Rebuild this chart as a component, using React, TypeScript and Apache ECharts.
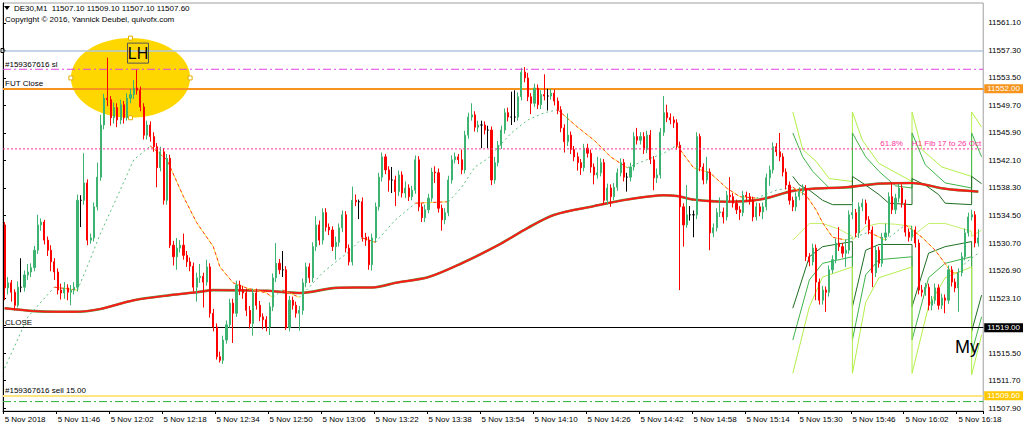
import React, { useEffect, useRef } from "react";
import * as echarts from "echarts";

// ---------- data ----------
const headerText = "DE30,M1  11507.10 11509.10 11507.10 11507.60";
const copyrightText = "Copyright \u00A9 2016, Yannick Deubel, quivofx.com";
const dayLabel = "5 Nov";
const firstLabel = "5 Nov 2018";
const startHour = 11;
const startMinute = 30;
const barCount = 296;
const labelEvery = 16;

const firstOpen = 11533.2;
const closes = [
  11524.5, 11525.2, 11523.9, 11522.1, 11524.6, 11524.6, 11526.3, 11526.7, 11527.3, 11529.7,
  11533.2, 11533.6, 11531.1, 11529.7, 11528.1, 11526.7, 11524.2, 11523.8, 11524.5, 11523.9,
  11524.2, 11524.6, 11536.6, 11536.6, 11539.0, 11531.1, 11531.4, 11535.7, 11539.8, 11547.0,
  11550.7, 11550.5, 11548.0, 11549.4, 11547.7, 11549.8, 11548.0, 11550.7, 11551.2, 11552.1,
  11551.8, 11549.5, 11545.6, 11547.0, 11545.4, 11544.0, 11541.1, 11543.3, 11536.6, 11542.4,
  11530.4, 11528.8, 11530.0, 11530.4, 11529.0, 11528.1, 11527.5, 11524.6, 11525.9, 11526.1,
  11525.3, 11527.4, 11521.0, 11519.1, 11515.0, 11514.5, 11517.3, 11519.4, 11522.4, 11521.0,
  11524.9, 11524.2, 11523.8, 11521.4, 11519.6, 11523.8, 11522.1, 11520.5, 11520.1, 11519.1,
  11521.9, 11525.9, 11527.9, 11527.0, 11527.0, 11519.0, 11522.8, 11522.1, 11521.0, 11521.4,
  11525.2, 11527.4, 11525.9, 11530.2, 11533.2, 11531.1, 11534.9, 11532.9, 11532.5, 11530.2,
  11530.8, 11532.8, 11534.6, 11530.0, 11528.1, 11536.6, 11536.4, 11536.4, 11531.5, 11531.1,
  11527.7, 11531.4, 11535.7, 11539.8, 11542.6, 11540.8, 11539.4, 11539.4, 11537.8, 11540.1,
  11537.6, 11538.3, 11537.1, 11538.0, 11542.2, 11535.7, 11534.2, 11535.3, 11536.9, 11540.5,
  11540.4, 11535.5, 11533.9, 11534.9, 11539.4, 11542.2, 11542.6, 11542.2, 11540.8, 11545.6,
  11548.1, 11548.4, 11546.7, 11547.0, 11547.0, 11546.3, 11546.3, 11539.4, 11541.8, 11544.2,
  11546.3, 11548.7, 11548.1, 11548.1, 11548.1, 11550.9, 11554.3, 11553.5, 11550.9, 11550.0,
  11552.1, 11549.8, 11551.2, 11551.0, 11551.0, 11551.4, 11550.3, 11549.1, 11546.6, 11544.7,
  11545.6, 11543.6, 11542.6, 11541.8, 11541.1, 11543.8, 11543.1, 11541.2, 11540.1, 11540.4,
  11541.8, 11536.6, 11538.3, 11537.1, 11538.4, 11540.4, 11541.8, 11539.8, 11539.8, 11541.2,
  11545.4, 11544.9, 11545.4, 11543.6, 11545.6, 11542.2, 11539.7, 11540.1, 11546.0, 11548.7,
  11548.0, 11547.7, 11547.3, 11544.2, 11535.7, 11533.2, 11534.6, 11534.6, 11534.6, 11545.4,
  11541.2, 11539.4, 11540.5, 11532.1, 11532.8, 11534.9, 11535.0, 11534.3, 11537.3, 11537.1,
  11536.2, 11535.3, 11534.9, 11537.3, 11537.1, 11536.6, 11534.3, 11535.7, 11535.0, 11535.7,
  11539.7, 11540.8, 11544.0, 11543.3, 11542.6, 11540.5, 11538.7, 11536.6, 11535.7, 11537.1,
  11537.8, 11538.2, 11528.8, 11528.1, 11530.0, 11525.3, 11522.8, 11524.2, 11523.9, 11527.0,
  11528.4, 11530.7, 11530.2, 11529.3, 11529.7, 11534.6, 11534.9, 11532.1, 11535.7, 11536.2,
  11533.9, 11532.5, 11526.6, 11529.7, 11527.9, 11531.5, 11532.1, 11537.1, 11535.3, 11536.9,
  11538.3, 11536.2, 11532.2, 11531.5, 11532.5, 11530.7, 11524.2, 11523.9, 11524.6, 11522.1,
  11522.8, 11524.5, 11522.1, 11523.1, 11522.8, 11527.0, 11525.3, 11524.5, 11526.6, 11528.8,
  11532.1, 11534.3, 11534.6, 11530.7, 11531.4,
];
const highs = [
  11533.6, 11526.0, 11525.6, 11524.3, 11525.4, 11528.6, 11526.9, 11527.8, 11527.9, 11530.3,
  11534.6, 11534.1, 11533.9, 11531.6, 11530.4, 11528.6, 11527.2, 11525.1, 11525.3, 11525.0,
  11524.9, 11525.3, 11537.4, 11537.3, 11543.1, 11539.5, 11532.0, 11536.3, 11541.8, 11548.4,
  11551.3, 11556.3, 11551.0, 11550.1, 11550.0, 11550.5, 11550.3, 11551.4, 11552.0, 11553.2,
  11554.7, 11552.3, 11550.0, 11547.6, 11547.5, 11546.0, 11544.5, 11544.0, 11543.8, 11543.0,
  11542.9, 11531.0, 11531.4, 11531.1, 11532.0, 11529.6, 11528.7, 11528.0, 11526.6, 11527.8,
  11526.6, 11528.4, 11527.9, 11521.6, 11519.6, 11515.7, 11517.9, 11520.0, 11523.0, 11523.0,
  11525.5, 11525.5, 11524.8, 11524.4, 11522.0, 11524.4, 11524.4, 11522.7, 11521.0, 11520.6,
  11522.5, 11526.5, 11530.7, 11528.5, 11529.6, 11527.5, 11523.4, 11523.3, 11522.6, 11522.0,
  11525.8, 11528.0, 11527.9, 11530.8, 11534.4, 11533.8, 11535.5, 11535.5, 11533.4, 11533.0,
  11531.6, 11533.4, 11535.2, 11535.1, 11530.5, 11538.5, 11537.4, 11536.7, 11537.0, 11532.1,
  11531.6, 11532.0, 11536.3, 11540.4, 11543.2, 11543.0, 11541.3, 11541.2, 11540.0, 11540.7,
  11540.6, 11539.2, 11538.8, 11538.6, 11542.8, 11542.7, 11536.2, 11536.0, 11537.5, 11541.1,
  11541.3, 11541.0, 11536.0, 11535.5, 11540.0, 11542.8, 11543.2, 11543.0, 11543.6, 11546.2,
  11548.7, 11550.0, 11548.9, 11547.6, 11547.6, 11547.5, 11546.9, 11546.8, 11542.6, 11544.8,
  11546.9, 11549.3, 11549.4, 11551.6, 11551.8, 11551.5, 11554.9, 11555.0, 11554.2, 11551.4,
  11552.7, 11552.6, 11551.8, 11554.0, 11552.0, 11552.0, 11551.9, 11550.8, 11549.6, 11547.1,
  11548.6, 11546.1, 11544.1, 11543.2, 11542.3, 11544.4, 11544.4, 11543.6, 11541.7, 11542.6,
  11542.4, 11542.3, 11538.9, 11538.8, 11539.0, 11541.0, 11542.4, 11542.3, 11540.4, 11541.8,
  11546.0, 11546.6, 11546.0, 11546.0, 11546.2, 11546.3, 11542.7, 11541.0, 11546.6, 11551.0,
  11549.8, 11548.6, 11548.2, 11547.8, 11544.7, 11536.2, 11538.7, 11535.8, 11535.2, 11546.0,
  11545.8, 11541.7, 11542.6, 11541.0, 11533.4, 11535.5, 11537.0, 11535.6, 11537.9, 11539.8,
  11537.6, 11536.7, 11535.8, 11537.9, 11537.8, 11537.6, 11537.1, 11536.3, 11536.2, 11536.3,
  11540.3, 11541.4, 11544.6, 11544.5, 11545.9, 11543.1, 11541.0, 11539.2, 11537.1, 11537.7,
  11538.4, 11538.8, 11538.7, 11529.3, 11530.6, 11530.5, 11525.8, 11524.8, 11524.7, 11527.6,
  11529.0, 11531.3, 11532.9, 11530.7, 11531.2, 11535.2, 11536.4, 11535.4, 11536.3, 11536.8,
  11536.7, 11534.4, 11533.0, 11530.3, 11530.2, 11532.1, 11533.4, 11537.7, 11539.0, 11537.5,
  11538.9, 11538.8, 11536.7, 11532.7, 11533.1, 11533.0, 11531.2, 11524.9, 11525.2, 11525.1,
  11523.4, 11525.1, 11525.0, 11523.7, 11523.6, 11527.6, 11527.5, 11525.8, 11527.2, 11529.4,
  11532.7, 11534.9, 11535.3, 11535.1, 11532.6,
];
const lows = [
  11522.8, 11523.6, 11522.6, 11521.4, 11521.8, 11523.9, 11524.0, 11525.6, 11526.0, 11526.8,
  11529.2, 11532.4, 11530.5, 11528.9, 11526.8, 11525.6, 11523.6, 11522.9, 11523.0, 11522.8,
  11522.1, 11523.6, 11524.0, 11532.9, 11536.0, 11530.4, 11530.6, 11530.9, 11535.2, 11539.3,
  11546.4, 11549.6, 11546.9, 11547.2, 11546.7, 11547.1, 11547.2, 11547.6, 11550.0, 11550.6,
  11551.2, 11548.9, 11545.0, 11545.0, 11544.7, 11543.3, 11538.4, 11540.6, 11536.0, 11536.0,
  11530.0, 11527.6, 11527.0, 11529.4, 11528.4, 11527.4, 11526.8, 11524.0, 11522.6, 11525.2,
  11521.8, 11524.8, 11520.4, 11518.5, 11514.6, 11514.2, 11514.0, 11516.8, 11519.0, 11516.9,
  11520.5, 11523.5, 11523.0, 11520.6, 11518.9, 11517.9, 11521.5, 11519.9, 11518.8, 11518.5,
  11518.0, 11521.3, 11525.3, 11526.4, 11526.0, 11518.7, 11518.5, 11521.5, 11520.4, 11518.6,
  11520.8, 11524.6, 11525.2, 11525.3, 11529.6, 11530.4, 11530.5, 11532.3, 11531.8, 11529.6,
  11528.4, 11530.2, 11532.2, 11529.4, 11527.6, 11527.6, 11535.8, 11534.0, 11530.9, 11530.3,
  11527.0, 11526.9, 11530.8, 11535.2, 11539.2, 11540.2, 11537.8, 11537.6, 11535.8, 11537.2,
  11537.0, 11536.9, 11536.5, 11536.6, 11537.5, 11535.1, 11533.6, 11533.6, 11534.8, 11536.4,
  11539.0, 11534.9, 11532.4, 11533.3, 11534.4, 11538.9, 11541.7, 11541.6, 11540.2, 11540.3,
  11545.1, 11547.6, 11546.1, 11546.0, 11543.8, 11545.7, 11543.8, 11538.7, 11538.9, 11541.3,
  11543.7, 11545.8, 11547.5, 11547.0, 11547.4, 11547.6, 11550.4, 11552.9, 11550.3, 11548.5,
  11549.5, 11549.2, 11549.2, 11550.4, 11549.0, 11550.5, 11549.7, 11548.5, 11546.0, 11543.2,
  11544.1, 11543.0, 11542.0, 11540.7, 11540.1, 11540.6, 11542.5, 11540.4, 11538.8, 11539.6,
  11539.9, 11536.0, 11536.0, 11535.7, 11536.6, 11537.9, 11539.9, 11539.2, 11537.8, 11539.2,
  11540.7, 11544.3, 11544.3, 11543.0, 11543.1, 11541.6, 11538.0, 11539.0, 11539.6, 11545.5,
  11547.4, 11547.1, 11546.6, 11543.6, 11524.2, 11530.2, 11532.8, 11533.8, 11531.5, 11534.0,
  11540.6, 11538.8, 11538.9, 11529.7, 11531.5, 11532.3, 11534.3, 11533.4, 11533.8, 11536.5,
  11535.6, 11534.7, 11533.9, 11534.4, 11536.5, 11536.0, 11533.7, 11533.8, 11534.4, 11534.0,
  11535.2, 11538.6, 11540.3, 11542.7, 11542.0, 11539.9, 11538.1, 11536.0, 11535.1, 11535.1,
  11536.6, 11537.3, 11528.2, 11527.5, 11527.6, 11522.8, 11522.2, 11522.2, 11521.2, 11523.3,
  11526.5, 11527.9, 11529.6, 11528.7, 11527.4, 11529.2, 11534.0, 11531.5, 11531.4, 11535.1,
  11533.3, 11531.9, 11524.6, 11526.0, 11527.3, 11527.4, 11531.0, 11531.6, 11534.7, 11534.7,
  11536.3, 11535.6, 11531.6, 11530.9, 11531.0, 11530.1, 11523.6, 11523.3, 11523.4, 11521.4,
  11521.4, 11522.3, 11521.5, 11521.6, 11521.0, 11522.3, 11524.7, 11523.9, 11521.2, 11526.1,
  11528.3, 11531.6, 11533.8, 11530.1, 11530.2,
];

// slow moving average (bar index, price)
const maSlow = [
  [0, 11521.7], [9, 11521.3], [16, 11521.2], [21, 11521.2], [29, 11521.6], [39, 11522.8],
  [50, 11523.5], [58, 11523.9], [63, 11524.2], [79, 11524.1], [89, 11523.8], [100, 11524.5],
  [112, 11524.6], [118, 11525.2], [128, 11526.0], [138, 11527.9], [149, 11530.4], [158, 11532.8],
  [166, 11534.6], [178, 11535.8], [188, 11536.7], [199, 11537.3], [203, 11537.2], [208, 11536.7],
  [218, 11536.4], [228, 11536.7], [238, 11537.9], [244, 11538.2], [254, 11538.4], [264, 11538.9],
  [274, 11539.0], [284, 11538.2], [294, 11537.8],
];

// fast trend line, rising and falling stretches
const trendRising = [
  [[0, 11513.4], [7, 11520.5], [15, 11524.6]],
  [[22, 11524.2], [25, 11527.5], [29, 11532.1], [34, 11537.1], [39, 11542.2], [44, 11544.1]],
  [[81, 11523.2], [84, 11524.2]],
  [[89, 11523.2], [92, 11524.6], [96, 11526.6], [100, 11528.1], [104, 11529.5], [108, 11531.4]],
  [[112, 11530.8], [118, 11533.9], [124, 11536.2]],
  [[134, 11536.4], [138, 11538.4], [142, 11541.2], [146, 11542.4], [153, 11545.9], [158, 11547.7], [163, 11548.7], [167, 11549.1]],
  [[188, 11541.1], [195, 11542.4], [199, 11543.1], [203, 11544.2]],
  [[227, 11536.9], [233, 11538.0], [238, 11538.4]],
  [[254, 11531.1], [261, 11532.2]],
  [[266, 11531.1], [272, 11533.2]],
  [[288, 11526.6], [290, 11527.9], [294, 11529.3]],
];
const trendFalling = [
  [[15, 11524.6], [22, 11524.2]],
  [[44, 11544.1], [49, 11542.2], [54, 11537.1], [58, 11533.5], [63, 11530.2], [65, 11527.4], [69, 11525.2], [73, 11524.5], [79, 11523.8], [81, 11523.2]],
  [[84, 11524.2], [89, 11523.2]],
  [[108, 11531.4], [112, 11530.8]],
  [[124, 11536.2], [134, 11536.4]],
  [[167, 11549.1], [173, 11546.7], [178, 11544.9], [183, 11542.6], [188, 11541.1]],
  [[203, 11544.2], [208, 11541.1], [213, 11540.4], [218, 11538.3], [222, 11537.1], [227, 11536.9]],
  [[238, 11538.4], [242, 11537.3], [245, 11535.3], [247, 11533.5], [250, 11531.5], [254, 11531.1]],
  [[261, 11532.2], [266, 11531.1]],
  [[272, 11533.2], [277, 11531.5], [281, 11529.7], [286, 11526.6], [288, 11526.6]],
];

// session bands (reset every 18 bars)
const bandUpperOuter = [[238, 11548.8], [241, 11543.6], [245, 11542.0], [249, 11539.6], [256, 11539.2], [256, 11548.8], [259, 11544.9], [264, 11541.7], [274, 11539.2], [274, 11548.8], [277, 11543.6], [283, 11541.2], [292, 11539.9], [292, 11548.8], [295, 11546.7]];
const bandUpperMid = [[238, 11545.9], [241, 11542.6], [244, 11540.6], [249, 11538.3], [256, 11538.3], [256, 11545.9], [260, 11542.6], [264, 11540.6], [269, 11538.6], [274, 11538.3], [274, 11545.9], [278, 11541.5], [284, 11539.0], [292, 11538.3], [292, 11545.9], [295, 11542.6]];
const bandUpperInner = [[238, 11539.9], [240, 11538.7], [243, 11538.0], [247, 11536.6], [250, 11536.0], [256, 11536.0], [256, 11539.9], [260, 11538.7], [264, 11537.4], [267, 11536.2], [274, 11536.0], [274, 11539.6], [278, 11538.7], [282, 11537.4], [284, 11536.2], [292, 11536.0], [292, 11539.9], [295, 11538.9]];
const bandLowerInner = [[238, 11531.1], [243, 11533.4], [247, 11533.4], [252, 11532.6], [256, 11531.6], [256, 11531.1], [260, 11533.0], [264, 11533.4], [269, 11533.3], [274, 11533.0], [274, 11531.6], [279, 11533.4], [284, 11533.4], [292, 11532.3], [292, 11531.6], [295, 11532.5]];
const bandLowerDark = [[238, 11521.7], [243, 11528.8], [247, 11530.2], [256, 11530.9], [256, 11521.9], [260, 11529.7], [264, 11530.5], [274, 11530.5], [274, 11521.9], [279, 11529.3], [284, 11530.2], [292, 11530.9], [292, 11518.5], [295, 11523.5]];
const bandLowerMid = [[238, 11517.3], [243, 11525.6], [247, 11527.9], [256, 11528.8], [256, 11517.3], [260, 11526.3], [264, 11528.4], [274, 11528.8], [274, 11517.3], [279, 11525.9], [284, 11527.9], [292, 11528.8], [292, 11515.5], [295, 11520.5]];
const bandLowerOuter = [[238, 11512.7], [243, 11521.9], [247, 11526.0], [256, 11527.4], [256, 11512.7], [260, 11522.5], [264, 11525.9], [274, 11527.4], [274, 11512.7], [279, 11522.0], [284, 11525.9], [292, 11527.4], [292, 11512.5], [295, 11518.0]];

// horizontal levels
const handleLevel = 11557.3;
const stopLossLevel = 11554.7;
const futCloseLevel = 11552.0;
const fibLevel = 11543.7;
const closeLevel = 11519.0;
const sellLevel = 11509.6;
const targetLevel = 11508.8;
const stopLossLabel = "#159367616 sl";
const futCloseLabel = "FUT Close";
const fibLabel = "61.8%    H1 Fib 17 to 26 Oct";
const closeLabel = "CLOSE";
const sellLabel = "#159367616 sell 15.00";

// price axis
const yMin = 11507.5;
const yMax = 11563.85;
const priceTicks = [11507.9, 11511.7, 11515.5, 11519.3, 11523.1, 11526.9, 11530.7, 11534.5, 11538.3, 11542.1, 11545.9, 11549.7, 11553.5, 11557.3, 11561.1];
const hiddenTickLabels = [11519.3];

// annotations (bar index, price)
const ellipseCenter = [38.4, 11553.5];
const ellipseHalfBars = 17.8;
const ellipseHalfPrice = 5.5;
const ellipseText = "LH";
const noteText = "My";
const notePoint = [286.6, 11516.4];

const FONT = "'Liberation Sans', Arial, sans-serif";

function pad2(n: number) {
  return n < 10 ? "0" + n : String(n);
}

export default function App() {
  const ref = useRef<HTMLDivElement>(null);
  useEffect(() => {
    document.body.style.margin = "0";
    const chart = echarts.init(ref.current!, null, { renderer: "svg" });

    const categories: string[] = [];
    for (let i = 0; i < barCount; i++) {
      const t = startHour * 60 + startMinute + i;
      categories.push(pad2(Math.floor(t / 60)) + ":" + pad2(t % 60));
    }
    const candles = closes.map((c, i) => [i === 0 ? firstOpen : closes[i - 1], c, lows[i], highs[i]]);

    const line = (data: any, color: string, width: number, type: any, z: number, smooth: any = false, xAxisIndex = 0) => ({
      type: "line",
      data,
      xAxisIndex,
      symbol: "none",
      showSymbol: false,
      silent: true,
      animation: false,
      smooth,
      emphasis: { disabled: true },
      lineStyle: { color, width, type },
      z,
    });

    const series: any[] = [];
    // slow MA (red over green)
    series.push(line(maSlow, "#5a9a40", 2.6, "solid", 3, 0.3));
    series.push(line(maSlow, "#ff1a1a", 1.9, "solid", 4, 0.3));
    // bands
    series.push(line(bandUpperOuter, "#b4f04a", 1, "solid", 3));
    series.push(line(bandUpperMid, "#3fb44a", 1, "solid", 3));
    series.push(line(bandUpperInner, "#1f6e22", 1, "solid", 3));
    series.push(line(bandLowerInner, "#c6f06a", 1, "solid", 3));
    series.push(line(bandLowerDark, "#1f6e22", 1, "solid", 3));
    series.push(line(bandLowerMid, "#3fb44a", 1, "solid", 3));
    series.push(line(bandLowerOuter, "#b4f04a", 1, "solid", 3));
    // trend line
    trendRising.forEach((seg) => series.push(line(seg, "#5cc27e", 1, [2, 3], 4)));
    trendFalling.forEach((seg) => {
      series.push(line(seg, "#ffe23a", 1, "solid", 4));
      series.push(line(seg, "#ff3b3b", 1, [3, 3], 5));
    });

    // dashed price levels, drawn across the full plot width on a hidden 0..1 axis
    series.push(line([[0, stopLossLevel], [1, stopLossLevel]], "#e040e0", 1, [8, 3, 2, 3], 7, false, 1));
    series.push(line([[0, fibLevel], [1, fibLevel]], "#ff3399", 1, [2, 2], 7, false, 1));
    series.push(line([[0, targetLevel], [1, targetLevel]], "#2fae3a", 1, [8, 3, 2, 3], 7, false, 1));

    series.push({
      type: "candlestick",
      data: candles,
      barWidth: 1.6,
      z: 6,
      silent: true,
      animation: false,
      itemStyle: {
        color: "#3cb371",
        color0: "#ff0000",
        borderColor: "#3cb371",
        borderColor0: "#ff0000",
        borderColorDoji: "#000000",
        borderWidth: 1,
      },
    });

    const leftLabel = (text: string) => ({
      show: true,
      position: "insideStartTop",
      formatter: text,
      color: "#000",
      fontSize: 8,
      fontFamily: FONT,
      distance: [2, 1],
    });
    const rightBox = (text: string, bg: string) => ({
      show: true,
      position: "end",
      formatter: text,
      color: "#fff",
      fontSize: 8,
      fontFamily: FONT,
      backgroundColor: bg,
      padding: [1, 3, 0, 3],
      distance: 1,
    });
    const level = (value: number, color: string, width: number, label: any) => ({
      yAxis: value,
      lineStyle: { color, width, type: "solid" },
      label,
    });
    const clear = "rgba(0,0,0,0)";

    // solid price levels and all level labels
    series.push({
      type: "line",
      data: [],
      symbol: "none",
      silent: true,
      animation: false,
      z: 7,
      markLine: {
        symbol: ["none", "none"],
        silent: true,
        animation: false,
        emphasis: { disabled: true },
        data: [
          level(handleLevel, "#b0c4de", 1.5, { show: false }),
          level(stopLossLevel, clear, 1, leftLabel(stopLossLabel)),
          level(futCloseLevel, "#f7941d", 2, leftLabel(futCloseLabel)),
          level(futCloseLevel, "#f7941d", 2, rightBox(futCloseLevel.toFixed(2), "#f7941d")),
          level(fibLevel, clear, 1, {
            show: true,
            position: "insideEndTop",
            formatter: fibLabel,
            color: "#ff3399",
            fontSize: 8,
            fontFamily: FONT,
            distance: [2, 1],
          }),
          level(closeLevel, "#000000", 1, leftLabel(closeLabel)),
          level(closeLevel, "#000000", 1, rightBox(closeLevel.toFixed(2), "#000000")),
          level(sellLevel, "#ffe680", 2, leftLabel(sellLabel)),
          level(sellLevel, "#ffe680", 2, rightBox(sellLevel.toFixed(2), "#ffc800")),
        ],
      },
    });

    const option: any = {
      animation: false,
      backgroundColor: "#ffffff",
      grid: { left: 3, right: 40, top: 3, bottom: 17, show: true, borderColor: "#a0a0a0", borderWidth: 1 },
      xAxis: [
        {
          type: "category",
          data: categories,
          boundaryGap: true,
          axisLine: { show: true, lineStyle: { color: "#000" } },
          axisTick: { show: true, interval: (i: number) => i % labelEvery === 0, length: 3, lineStyle: { color: "#000" } },
          axisLabel: {
            interval: (i: number) => i % labelEvery === 0,
            formatter: (v: string, i: number) => (i === 0 ? firstLabel : dayLabel + " " + v),
            align: "left",
            fontSize: 8,
            fontFamily: FONT,
            color: "#000",
            margin: 4,
          },
          splitLine: { show: false },
        },
        { type: "value", min: 0, max: 1, show: false },
      ],
      yAxis: {
        type: "value",
        position: "right",
        min: yMin,
        max: yMax,
        axisLine: { show: true, lineStyle: { color: "#000" } },
        axisTick: { show: true, customValues: priceTicks, length: 3, lineStyle: { color: "#000" } },
        axisLabel: {
          customValues: priceTicks.filter((v) => hiddenTickLabels.indexOf(v) < 0),
          formatter: (v: number) => v.toFixed(2),
          fontSize: 8,
          fontFamily: FONT,
          color: "#000",
          margin: 5,
        },
        splitLine: { show: false },
      },
      series,
    };
    chart.setOption(option);

    const c = chart.convertToPixel({ xAxisIndex: 0, yAxisIndex: 0 }, ellipseCenter) as number[];
    const e = chart.convertToPixel({ xAxisIndex: 0, yAxisIndex: 0 }, [ellipseCenter[0] + ellipseHalfBars, ellipseCenter[1] - ellipseHalfPrice]) as number[];
    const rx = Math.abs(e[0] - c[0]);
    const ry = Math.abs(e[1] - c[1]);
    const n = chart.convertToPixel({ xAxisIndex: 0, yAxisIndex: 0 }, notePoint) as number[];
    const handle = (x: number, y: number) => ({
      type: "rect",
      shape: { x: x - 2, y: y - 2, width: 4, height: 4 },
      style: { fill: "#ffffff", stroke: "#e0b000", lineWidth: 1 },
      z: 60,
    });

    chart.setOption({
      graphic: [
        { type: "ellipse", shape: { cx: c[0], cy: c[1], rx, ry }, style: { fill: "#ffd700" }, z: 0 },
        handle(c[0], c[1] - ry),
        handle(c[0] - rx, c[1]),
        handle(c[0] + rx, c[1]),
        handle(c[0], c[1] + ry),
        { type: "rect", shape: { x: c[0] - 3, y: c[1] - ry + 5, width: 21, height: 20 }, style: { fill: "none", stroke: "#555", lineWidth: 1 }, z: 60 },
        {
          type: "text",
          x: c[0] + 7.5,
          y: c[1] - ry + 15.5,
          style: { text: ellipseText, font: "16px " + FONT, fill: "#000", align: "center", verticalAlign: "middle" },
          z: 61,
        },
        { type: "polygon", shape: { points: [[4, 6], [10, 6], [7, 10]] }, style: { fill: "#000" }, z: 60 },
        { type: "text", x: 14, y: 4, style: { text: headerText, font: "8px " + FONT, fill: "#000", verticalAlign: "top" }, z: 60 },
        { type: "text", x: 5, y: 15.5, style: { text: copyrightText, font: "8px " + FONT, fill: "#000", verticalAlign: "top" }, z: 60 },
        { type: "rect", shape: { x: 1, y: 48.5, width: 3, height: 4 }, style: { fill: "none", stroke: "#000", lineWidth: 1 }, z: 60 },
        {
          type: "text",
          x: n[0],
          y: n[1],
          style: { text: noteText, font: "18px " + FONT, fill: "#000", align: "left", verticalAlign: "middle" },
          z: 61,
        },
      ],
    });

    return () => chart.dispose();
  }, []);
  return <div ref={ref} style={{ width: 1024, height: 428 }} />;
}
